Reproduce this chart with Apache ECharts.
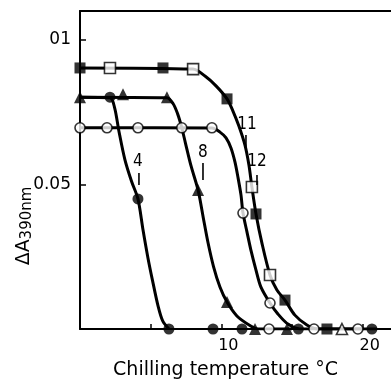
<!DOCTYPE html>
<html>
<head>
<meta charset="utf-8">
<script src="https://cdn.jsdelivr.net/npm/echarts@6/dist/echarts.min.js"></script>
<style>
html,body{margin:0;padding:0;background:#fff;}
#chart{width:391px;height:380px;}
</style>
</head>
<body>
<div id="chart"></div>
<script>
// ---- Data ----
// Axis
const xMin = 0, xMax = 22, xInterval = 5;
const yMin = 0, yMax = 0.11, yInterval = 0.05;
const xTickLabels = {10: '10', 20: '20'};
const yTickLabels = {'0.05': '0.05', '0.1': '01'};

// Measured points
const filledCircleX = [2.12, 4.10, 6.29, 9.41, 11.46, 15.45, 20.65];
const filledCircleY = [0.0802, 0.0450, 0, 0, 0, 0, 0];
const filledTriX = [0, 3.04, 6.15, 8.35, 10.40, 12.38, 14.64];
const filledTriY = [0.0802, 0.0812, 0.0802, 0.0481, 0.0093, 0, 0];
const openCircleX = [0, 1.91, 4.10, 7.20, 9.33, 11.53, 13.44, 13.37, 16.55, 19.66];
const openCircleY = [0.0696, 0.0696, 0.0696, 0.0696, 0.0696, 0.0401, 0.0090, 0, 0, 0];
const openTriX = [18.53];
const openTriY = [0];
const filledSquareX = [0, 5.87, 10.40, 12.45, 14.50, 17.47];
const filledSquareY = [0.0903, 0.0903, 0.0796, 0.0398, 0.0100, 0];
const openSquareX = [2.12, 8.00, 12.16, 13.44];
const openSquareY = [0.0903, 0.0899, 0.0491, 0.0187];

// Fitted curves as drawn in the reference
const fit4X = [0, 2.12, 2.45, 2.75, 3.18, 3.65, 4.10, 4.45, 4.81, 5.12, 5.52, 5.85, 6.29];
const fit4Y = [0.0802, 0.0800, 0.0765, 0.0685, 0.0585, 0.0510, 0.0450, 0.0345, 0.0245, 0.0170, 0.0080, 0.0028, 0];
const fit8X = [0, 6.15, 6.58, 6.90, 7.18, 7.45, 7.85, 8.35, 8.72, 9.05, 9.45, 9.90, 10.40, 11.10, 12.02, 12.59, 15.0];
const fit8Y = [0.0802, 0.0800, 0.0780, 0.0745, 0.0700, 0.0645, 0.0565, 0.0481, 0.0385, 0.0300, 0.0215, 0.0145, 0.0093, 0.0045, 0.0012, 0, 0];
const fit11X = [0, 9.33, 9.90, 10.33, 10.68, 10.96, 11.17, 11.39, 11.53, 11.81, 12.09, 12.45, 12.80, 13.44, 14.00, 14.71, 15.56, 20.0];
const fit11Y = [0.0696, 0.0695, 0.0681, 0.0661, 0.0626, 0.0578, 0.0526, 0.0463, 0.0401, 0.0336, 0.0273, 0.0204, 0.0145, 0.0090, 0.0052, 0.0017, 0, 0];
const fit12X = [0, 7.99, 8.84, 9.62, 10.40, 10.82, 11.24, 11.67, 11.95, 12.16, 12.45, 12.87, 13.44, 13.93, 14.50, 15.20, 16.05, 16.80, 21.0];
const fit12Y = [0.0903, 0.0899, 0.0875, 0.0841, 0.0796, 0.0754, 0.0702, 0.0636, 0.0567, 0.0491, 0.0398, 0.0297, 0.0187, 0.0135, 0.0100, 0.0048, 0.0014, 0, 0];

// Curve annotations
const curveLabelText = ['4', '8', '11', '12'];
const curveLabelX = [4.10, 8.70, 11.81, 12.52];
const curveLabelY = [0.0578, 0.0609, 0.0706, 0.0578];
const leaderX = [4.17, 8.70, 11.74, 12.52];
const leaderTopY = [0.0540, 0.0574, 0.0671, 0.0533];
const leaderBotY = [0.0498, 0.0515, 0.0612, 0.0498];

// ---- Build chart ----
const zip = (xs, ys) => xs.map((x, i) => [x, ys[i]]);
const FONT = 'DejaVu Sans';

function fitSeries(xs, ys) {
  return {
    type: 'line', data: zip(xs, ys), showSymbol: false, smooth: 0.3,
    lineStyle: {color: '#000', width: 3}, z: 2, silent: true
  };
}
function markerSeries(xs, ys, symbol, size, filled) {
  return {
    type: 'scatter', data: zip(xs, ys), symbol: symbol, symbolSize: size,
    itemStyle: filled ? {color: '#000'} : {color: '#fff', borderColor: '#000', borderWidth: 1.6},
    z: 5, silent: true
  };
}

const chart = echarts.init(document.getElementById('chart'), null, {renderer: 'canvas'});
chart.setOption({
  animation: false,
  backgroundColor: '#fff',
  grid: {left: 80, right: 0, top: 11, bottom: 51, containLabel: false, outerBoundsMode: 'none'},
  xAxis: [{
    type: 'value', min: xMin, max: xMax, interval: xInterval,
    axisLine: {show: true, lineStyle: {color: '#000', width: 2}},
    axisTick: {show: true, inside: true, length: 5, lineStyle: {color: '#000', width: 1.5}},
    splitLine: {show: false},
    axisLabel: {
      showMaxLabel: false, margin: 9, color: '#000', fontFamily: FONT, fontSize: 16,
      padding: [0, 0, 0, 14],
      formatter: v => xTickLabels[v] || ''
    },
    name: 'Chilling temperature °C', nameLocation: 'middle', nameGap: 32,
    nameTextStyle: {color: '#000', fontFamily: FONT, fontSize: 19, padding: [0, 20, 0, 0]}
  }, {
    type: 'value', position: 'top', min: xMin, max: xMax,
    axisLine: {show: true, onZero: false, lineStyle: {color: '#000', width: 2}},
    axisTick: {show: false}, axisLabel: {show: false}, splitLine: {show: false}
  }],
  yAxis: {
    type: 'value', min: yMin, max: yMax, interval: yInterval,
    axisLine: {show: true, lineStyle: {color: '#000', width: 2}},
    axisTick: {show: true, inside: true, length: 6, lineStyle: {color: '#000', width: 1.5}},
    splitLine: {show: false},
    axisLabel: {
      showMaxLabel: false, margin: 9, color: '#000', fontFamily: FONT, fontSize: 17,
      formatter: v => yTickLabels[String(Math.round(v * 100) / 100)] || ''
    }
  },
  graphic: [{
    type: 'text', x: 24, y: 226, rotation: Math.PI / 2,
    style: {
      text: '{a|ΔA}{b|390nm}', align: 'center', verticalAlign: 'middle',
      rich: {
        a: {fontFamily: FONT, fontSize: 19, lineHeight: 19, verticalAlign: 'top', fill: '#000', color: '#000'},
        b: {fontFamily: FONT, fontSize: 15, lineHeight: 15, padding: [7, 0, 0, 0], fill: '#000', color: '#000'}
      }
    }
  }],
  series: [
    fitSeries(fit4X, fit4Y),
    fitSeries(fit8X, fit8Y),
    fitSeries(fit11X, fit11Y),
    fitSeries(fit12X, fit12Y),
    markerSeries(filledCircleX, filledCircleY, 'circle', 11, true),
    markerSeries(filledTriX, filledTriY, 'triangle', 12, true),
    markerSeries(openCircleX, openCircleY, 'circle', 10, false),
    markerSeries(openTriX, openTriY, 'triangle', 11, false),
    markerSeries(filledSquareX, filledSquareY, 'rect', 11, true),
    markerSeries(openSquareX, openSquareY, 'rect', 11, false),
    {
      type: 'custom', z: 6, silent: true,
      data: curveLabelText.map((t, i) => [curveLabelX[i], curveLabelY[i]]),
      renderItem: function (params, api) {
        const i = params.dataIndex;
        const p = api.coord([curveLabelX[i], curveLabelY[i]]);
        const a = api.coord([leaderX[i], leaderTopY[i]]);
        const b = api.coord([leaderX[i], leaderBotY[i]]);
        return {
          type: 'group',
          children: [
            {type: 'text', style: {text: curveLabelText[i], x: p[0], y: p[1], align: 'center', verticalAlign: 'middle',
              font: '17px "DejaVu Sans Condensed", "DejaVu Sans", sans-serif', fill: '#000'}},
            {type: 'line', shape: {x1: a[0], y1: a[1], x2: b[0], y2: b[1]}, style: {stroke: '#000', lineWidth: 1.6}}
          ]
        };
      }
    }
  ]
});
</script>
</body>
</html>
